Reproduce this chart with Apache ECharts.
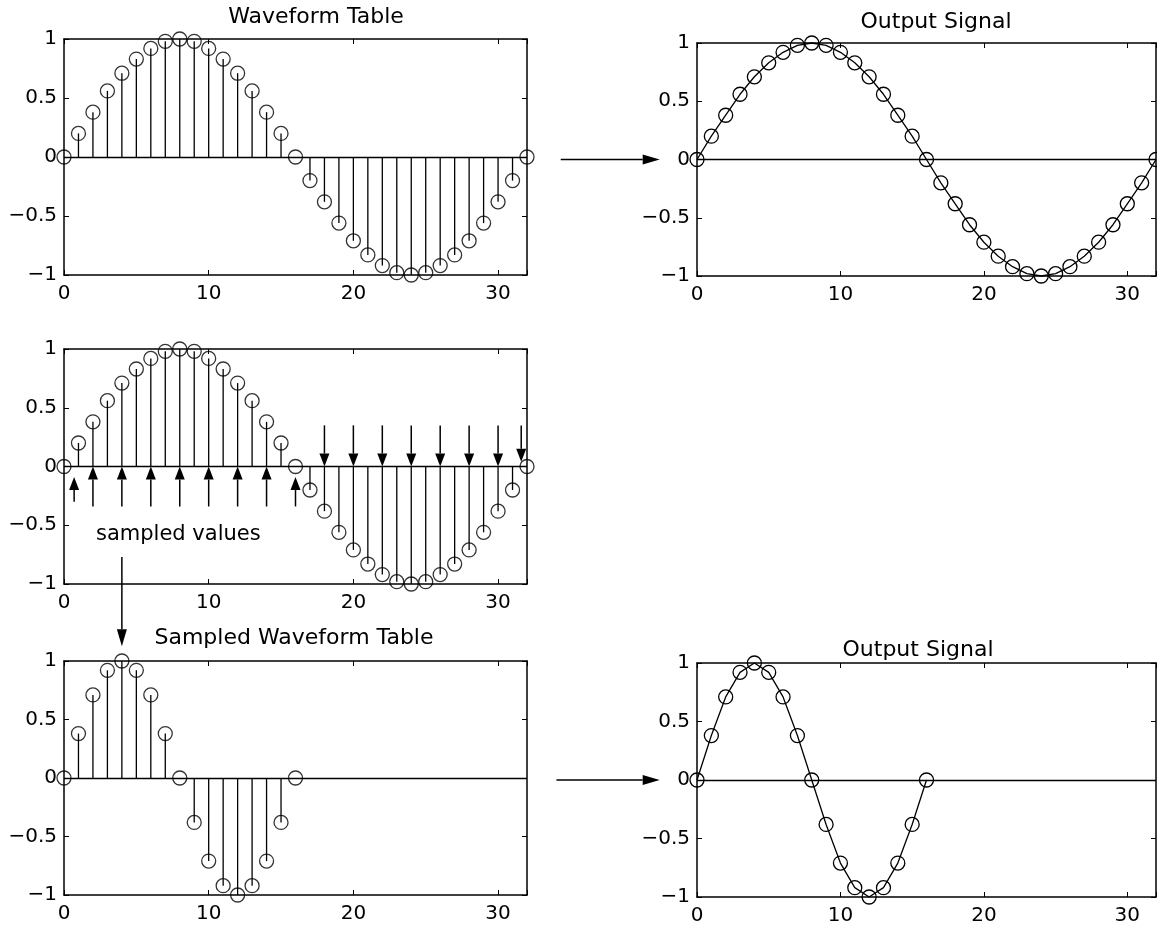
<!DOCTYPE html>
<html><head><meta charset="utf-8">
<script src="https://cdn.jsdelivr.net/npm/echarts@6/dist/echarts.min.js"></script>
<style>html,body{margin:0;padding:0;background:#fff}#c{width:1157px;height:935px}</style>
</head><body><div id="c"></div>
<script>
// ---------- data ----------
const sampleIndex32 = [0,1,2,3,4,5,6,7,8,9,10,11,12,13,14,15,16,17,18,19,20,21,22,23,24,25,26,27,28,29,30,31,32];
const waveformTable = [0,0.20,0.38,0.56,0.71,0.83,0.92,0.98,1.00,0.98,0.92,0.83,0.71,0.56,0.38,0.20,0,
  -0.20,-0.38,-0.56,-0.71,-0.83,-0.92,-0.98,-1.00,-0.98,-0.92,-0.83,-0.71,-0.56,-0.38,-0.20,0];
const sampleIndex16 = [0,1,2,3,4,5,6,7,8,9,10,11,12,13,14,15,16];
const sampledTable = [0,0.38,0.71,0.92,1.00,0.92,0.71,0.38,0,-0.38,-0.71,-0.92,-1.00,-0.92,-0.71,-0.38,0];

const xTickValues = [0,10,20,30];
const titles = ['Waveform Table','Output Signal','Sampled Waveform Table','Output Signal'];
const annotationText = 'sampled values';
const annotationPos = [7.9, -0.58];

// sampling arrows in the middle panel: [x, from y, to y]
const upArrowX    = [0.7, 2, 4, 6, 8, 10, 12, 14, 16];
const upArrowFrom = [-0.30,-0.34,-0.34,-0.34,-0.34,-0.34,-0.34,-0.34,-0.34];
const upArrowTo   = [-0.09, 0, 0, 0, 0, 0, 0, 0, -0.09];
const downArrowX    = [18, 20, 22, 24, 26, 28, 30, 31.6];
const downArrowFrom = [0.35,0.35,0.35,0.35,0.35,0.35,0.35,0.35];
const downArrowTo   = [0, 0, 0, 0, 0, 0, 0, 0.04];
// pointer from "sampled values" down to the sampled table (middle panel units)
const pointerArrow = [4, -0.77, 4, -1.53];
// arrows feeding the output plots (in output-panel units)
const feedArrowTop = [-9.5, 0, -2.6, 0];
const feedArrowBottom = [-9.8, 0, -2.6, 0];

// ---------- chart ----------
const FONT = 'DejaVu Sans';
const grids = [
  {left:64, top:39, width:463, height:236},
  {left:697, top:43, width:459, height:233},
  {left:64, top:349, width:463, height:235},
  {left:64, top:661, width:463, height:234},
  {left:697, top:663, width:459, height:234}
];
const lineAxis = {onZero:false, lineStyle:{color:'#000', width:1.5}};
const tick = {inside:true, length:5, lineStyle:{color:'#000', width:1}};
const xAxes = [], yAxes = [];
grids.forEach((g, i) => {
  ['bottom','top'].forEach(pos => xAxes.push({
    gridIndex:i, type:'value', min:0, max:32, interval:10, position:pos,
    axisLine:lineAxis, axisTick:tick, splitLine:{show:false},
    axisLabel: pos==='bottom' ? {show:true, margin:9, color:'#000', fontSize:20, fontFamily:FONT,
      formatter: v => xTickValues.includes(v) ? String(v) : ''} : {show:false}
  }));
  ['left','right'].forEach(pos => yAxes.push({
    gridIndex:i, type:'value', min:-1, max:1, interval:0.5, position:pos,
    axisLine:lineAxis, axisTick:tick, splitLine:{show:false},
    axisLabel: pos==='left' ? {show:true, margin:7, color:'#000', fontSize:20, fontFamily:FONT,
      formatter: v => String(v).replace('-', '\u2212')} : {show:false}
  }));
});

const zeroLine = {silent:true, symbol:['none','none'], label:{show:false},
  lineStyle:{color:'#000', width:1.4, type:'solid'}, data:[{yAxis:0}], animation:false};
const ring = {color:'rgba(0,0,0,0)', borderColor:'#000', borderWidth:1.3};

function stems(gi, xs, ys) {
  return {type:'custom', xAxisIndex:gi*2, yAxisIndex:gi*2, data: xs.map((x,k)=>[x, ys[k]]),
    encode:{x:0, y:1}, clip:false, z:2, markLine: zeroLine,
    renderItem:(p, api) => {
      const a = api.coord([api.value(0), 0]), b = api.coord([api.value(0), api.value(1)]);
      return {type:'line', shape:{x1:a[0], y1:a[1], x2:b[0], y2:b[1]}, style:{stroke:'#000', lineWidth:1.3}};
    }};
}
function rings(gi, xs, ys) {
  return {type:'scatter', xAxisIndex:gi*2, yAxisIndex:gi*2, data: xs.map((x,k)=>[x, ys[k]]),
    symbol:'circle', symbolSize:14, itemStyle:ring, z:3, clip:false};
}
function curve(gi, xs, ys) {
  return {type:'line', xAxisIndex:gi*2, yAxisIndex:gi*2, data: xs.map((x,k)=>[x, ys[k]]),
    symbol:'circle', symbolSize:14, showSymbol:true, itemStyle:ring, clip:false,
    lineStyle:{color:'#000', width:1.3}, markLine: zeroLine, z:3};
}
function arrows(gi, list, headLen, headHalf) {
  return {type:'custom', xAxisIndex:gi*2, yAxisIndex:gi*2, data:list, clip:false, z:4,
    encode:{x:[0,2], y:[1,3]},
    renderItem:(p, api) => {
      const a = api.coord([api.value(0), api.value(1)]), b = api.coord([api.value(2), api.value(3)]);
      const dx = b[0]-a[0], dy = b[1]-a[1], L = Math.hypot(dx, dy) || 1;
      const ux = dx/L, uy = dy/L, px = -uy, py = ux;
      const bx = b[0]-ux*headLen, by = b[1]-uy*headLen;
      return {type:'group', children:[
        {type:'line', shape:{x1:a[0], y1:a[1], x2:bx, y2:by}, style:{stroke:'#000', lineWidth:1.5}},
        {type:'polygon', shape:{points:[[b[0],b[1]],[bx+px*headHalf, by+py*headHalf],[bx-px*headHalf, by-py*headHalf]]},
          style:{fill:'#000'}}
      ]};
    }};
}
const samplerArrows = upArrowX.map((x,k)=>[x, upArrowFrom[k], x, upArrowTo[k]])
  .concat(downArrowX.map((x,k)=>[x, downArrowFrom[k], x, downArrowTo[k]]));

const series = [
  stems(0, sampleIndex32, waveformTable), rings(0, sampleIndex32, waveformTable),
  curve(1, sampleIndex32, waveformTable),
  stems(2, sampleIndex32, waveformTable), rings(2, sampleIndex32, waveformTable),
  arrows(2, samplerArrows, 13, 5),
  arrows(2, [pointerArrow], 17, 5),
  {type:'custom', xAxisIndex:4, yAxisIndex:4, data:[annotationPos], encode:{x:0,y:1}, clip:false, z:4,
    renderItem:(p, api) => {
      const c = api.coord([api.value(0), api.value(1)]);
      return {type:'text', x:c[0], y:c[1], style:{text:annotationText, fill:'#000', fontSize:21,
        fontFamily:FONT, align:'center', verticalAlign:'middle'}};
    }},
  stems(3, sampleIndex16, sampledTable), rings(3, sampleIndex16, sampledTable),
  curve(4, sampleIndex16, sampledTable),
  arrows(1, [feedArrowTop], 17, 5),
  arrows(4, [feedArrowBottom], 17, 5)
];

const titleStyle = {fill:'#000', fontSize:22, fontFamily:FONT, align:'center', verticalAlign:'top'};
const chart = echarts.init(document.getElementById('c'), null, {renderer:'canvas'});
chart.setOption({
  animation:false,
  backgroundColor:'#fff',
  grid: grids.map(g => Object.assign({containLabel:false, outerBoundsMode:'none'}, g)),
  xAxis: xAxes, yAxis: yAxes,
  series: series,
  graphic: [
    {type:'text', x:316, y:6, style:Object.assign({text:titles[0]}, titleStyle)},
    {type:'text', x:936, y:11, style:Object.assign({text:titles[1]}, titleStyle)},
    {type:'text', x:294, y:627, style:Object.assign({text:titles[2]}, titleStyle)},
    {type:'text', x:918, y:639, style:Object.assign({text:titles[3]}, titleStyle)}
  ]
});
</script></body></html>
